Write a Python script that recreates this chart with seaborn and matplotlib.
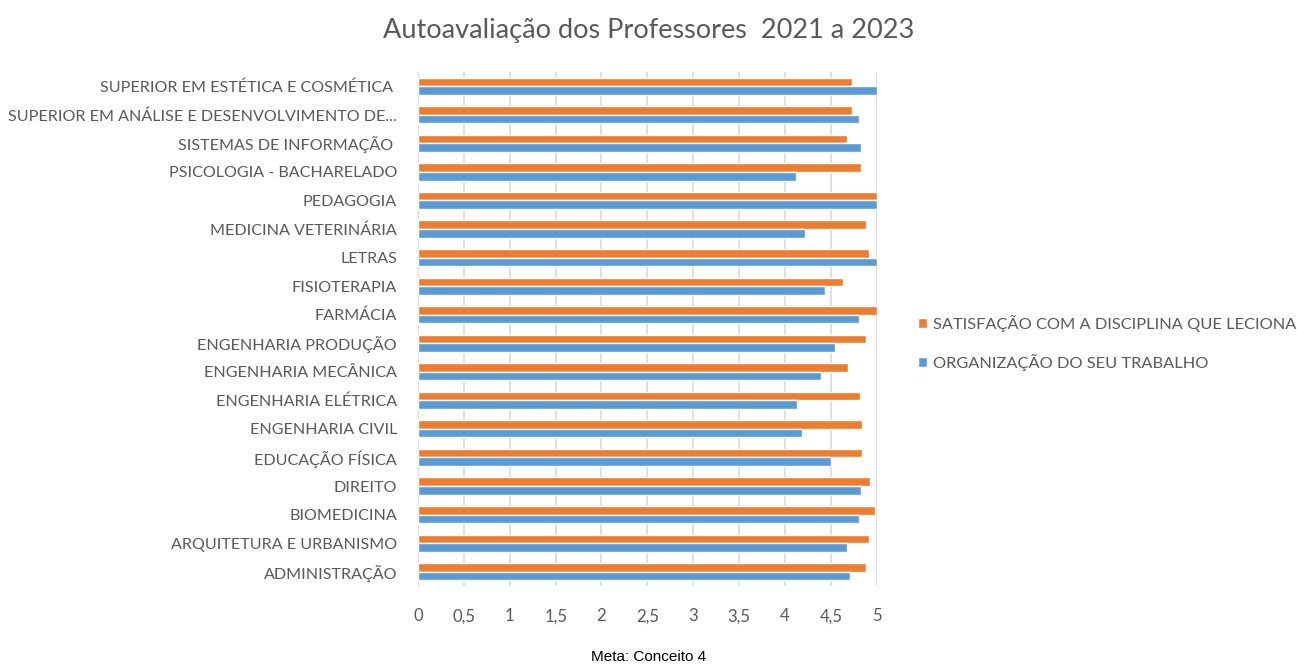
import matplotlib
matplotlib.use("Agg")
import matplotlib.pyplot as plt
import pandas as pd
import seaborn as sns

courses = [
    "SUPERIOR EM ESTÉTICA E COSMÉTICA ",
    "SUPERIOR EM ANÁLISE E DESENVOLVIMENTO DE...",
    "SISTEMAS DE INFORMAÇÃO ",
    "PSICOLOGIA - BACHARELADO",
    "PEDAGOGIA",
    "MEDICINA VETERINÁRIA",
    "LETRAS",
    "FISIOTERAPIA",
    "FARMÁCIA",
    "ENGENHARIA PRODUÇÃO",
    "ENGENHARIA MECÂNICA",
    "ENGENHARIA ELÉTRICA",
    "ENGENHARIA CIVIL",
    "EDUCAÇÃO FÍSICA",
    "DIREITO",
    "BIOMEDICINA",
    "ARQUITETURA E URBANISMO",
    "ADMINISTRAÇÃO",
]
satisfacao = [4.73, 4.73, 4.67, 4.83, 5.0, 4.88, 4.92, 4.63, 5.0,
              4.88, 4.69, 4.82, 4.84, 4.84, 4.93, 4.98, 4.91, 4.88]
organizacao = [5.0, 4.81, 4.83, 4.12, 5.0, 4.22, 5.0, 4.44, 4.81,
               4.54, 4.39, 4.13, 4.18, 4.50, 4.83, 4.81, 4.67, 4.71]
series_names = ["SATISFAÇÃO COM A DISCIPLINA QUE LECIONA", "ORGANIZAÇÃO DO SEU TRABALHO"]
series_colors = ["#ED7D31", "#5B9BD5"]
x_ticks = [0, 0.5, 1, 1.5, 2, 2.5, 3, 3.5, 4, 4.5, 5]

df = pd.concat([
    pd.DataFrame({"curso": courses, "nota": satisfacao, "serie": series_names[0]}),
    pd.DataFrame({"curso": courses, "nota": organizacao, "serie": series_names[1]}),
])

sns.set_style("white")
plt.rcParams["font.family"] = ["Lato", "DejaVu Sans"]
gray = "#595959"

fig = plt.figure(figsize=(12.98, 6.71), dpi=100)
ax = fig.add_axes([0.322, 0.1267, 0.3535, 0.766])

sns.barplot(data=df, x="nota", y="curso", hue="serie", order=courses,
            hue_order=series_names, palette=series_colors, width=0.6,
            gap=0, saturation=1, ax=ax, orient="h")

ax.set_xlim(0, 5)
ax.set_xticks(x_ticks)
ax.set_xticklabels([f"{t:g}".replace(".", ",") for t in x_ticks])
ax.grid(axis="x", color="#D9D9D9", linewidth=1.2)
ax.set_axisbelow(True)
for s in ax.spines.values():
    s.set_visible(False)
ax.tick_params(axis="both", length=0, colors=gray, labelsize=12)
ax.tick_params(axis="y", pad=15, labelsize=11.6)
ax.tick_params(axis="x", pad=16)
ax.set_xlabel("")
ax.set_ylabel("")

handles, labels = ax.get_legend_handles_labels()
ax.legend(handles, labels, loc="center left", bbox_to_anchor=(1.089, 0.473),
          frameon=False, fontsize=11.8, labelcolor=gray, handlelength=0.6,
          handleheight=0.6, handletextpad=0.35, labelspacing=1.35,
          borderpad=0, borderaxespad=0)

fig.text(0.5, 0.955, "Autoavaliação dos Professores  2021 a 2023", ha="center",
         va="center", fontsize=19.5, color=gray)
fig.text(0.5, 0.021, "Meta: Conceito 4", ha="center", va="center",
         fontsize=11, color="black", family="Liberation Sans")

fig.savefig("out.png", dpi=100)
